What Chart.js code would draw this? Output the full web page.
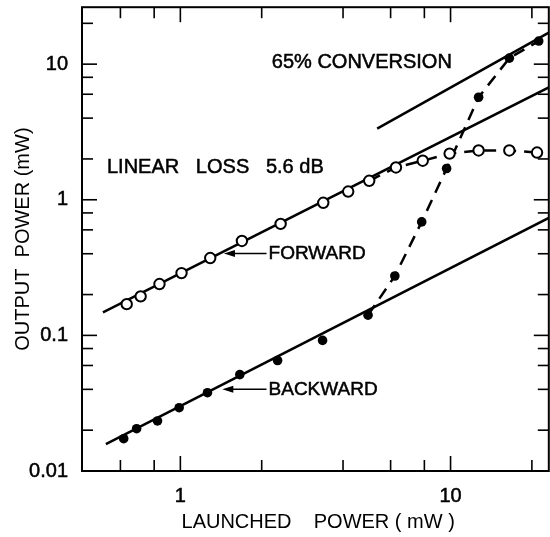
<!DOCTYPE html>
<html>
<head>
<meta charset="utf-8">
<script src="https://cdn.jsdelivr.net/npm/chart.js@4.4.1/dist/chart.umd.min.js"></script>
<style>
  html, body { margin: 0; padding: 0; background: #fff; overflow: hidden; }
  #wrap { position: relative; width: 556px; height: 537px; }
</style>
</head>
<body>
<div id="wrap"><canvas id="powerChart"></canvas></div>
<script>
// Forward output (open circles) vs launched power, mW
const fwdLaunched = [0.633, 0.713, 0.837, 1.01, 1.29, 1.69, 2.35, 3.38, 4.18, 5.0, 6.28, 7.89, 9.92, 12.7, 16.5, 20.9];
const fwdOutput   = [0.170, 0.194, 0.239, 0.288, 0.372, 0.497, 0.664, 0.95, 1.15, 1.38, 1.73, 1.94, 2.19, 2.31, 2.31, 2.23];

// Backward output (filled dots) vs launched power, mW
const bwdLaunched = [0.617, 0.689, 0.823, 0.99, 1.26, 1.66, 2.29, 3.36, 4.95, 6.22, 7.82, 9.67, 12.7, 16.5, 21.2];
const bwdOutput   = [0.0173, 0.0205, 0.0234, 0.0293, 0.0378, 0.0514, 0.0653, 0.0918, 0.141, 0.274, 0.687, 1.70, 5.70, 11.07, 14.8];

// straight reference lines (end points)
const lossLineX = [0.517, 23.1];
const lossLineY = [0.148, 6.73];
const bwdLineX = [0.530, 23.1];
const bwdLineY = [0.0158, 0.735];
const convLineX = [5.35, 23.1];
const convLineY = [3.35, 17.1];

// where the dashed curves leave the straight lines
const fwdBreak = 9;
const bwdBreak = 8;

// axis ticks
const xTickValues = [0.6, 0.8, 1, 2, 4, 6, 8, 10, 20];
const xLabelValues = [1, 10];
const xLabelText = ['1', '10'];
const yTickValues = [0.01, 0.02, 0.04, 0.06, 0.08, 0.1, 0.2, 0.4, 0.6, 0.8, 1, 2, 4, 6, 8, 10, 20];
const yLabelValues = [0.01, 0.1, 1, 10];
const yLabelText = ['0.01', '0.1', '1', '10'];

const FONT = '"Liberation Sans", Arial, Helvetica, sans-serif';

const pts = (xs, ys) => xs.map((v, i) => ({x: v, y: ys[i]}));

// text notes with arrows, placed in data units
const notes = [
  {text: '65% CONVERSION', x: 2.18, y: 10.3, size: 20},
  {text: 'LINEAR   LOSS   5.6 dB', x: 0.535, y: 1.74, size: 20},
  {text: 'FORWARD', x: 2.12, y: 0.402, size: 19, arrowTo: 1.45},
  {text: 'BACKWARD', x: 2.12, y: 0.040, size: 19, arrowTo: 1.43}
];

// box with inward ticks on all four sides
const frameTicks = {
  id: 'frameTicks',
  afterDatasetsDraw(chart) {
    const {ctx, chartArea: a, scales: {x, y}} = chart;
    ctx.save();
    ctx.strokeStyle = '#000';
    ctx.lineWidth = 2;
    ctx.strokeRect(a.left, a.top, a.right - a.left, a.bottom - a.top);
    ctx.lineWidth = 1.6;
    const seg = (x1, y1, x2, y2) => {
      ctx.beginPath(); ctx.moveTo(x1, y1); ctx.lineTo(x2, y2); ctx.stroke();
    };
    xTickValues.forEach(v => {
      const px = x.getPixelForValue(v);
      const len = xLabelValues.includes(v) ? 15 : 11;
      seg(px, a.bottom, px, a.bottom - len);
      seg(px, a.top, px, a.top + len);
    });
    yTickValues.forEach(v => {
      const py = y.getPixelForValue(v);
      const len = yLabelValues.includes(v) ? 15 : 11;
      seg(a.left, py, a.left + len, py);
      seg(a.right, py, a.right - len, py);
    });
    ctx.restore();
  }
};

const noteText = {
  id: 'noteText',
  afterDatasetsDraw(chart) {
    const {ctx, scales: {x, y}} = chart;
    ctx.save();
    ctx.fillStyle = '#000';
    ctx.strokeStyle = '#000';
    ctx.textBaseline = 'middle';
    ctx.textAlign = 'left';
    notes.forEach(n => {
      const px = x.getPixelForValue(n.x);
      const py = y.getPixelForValue(n.y);
      ctx.font = n.size + 'px ' + FONT;
      ctx.lineWidth = 0.5;
      ctx.fillText(n.text, px, py);
      ctx.strokeText(n.text, px, py);
      if (n.arrowTo) {
        const tx = x.getPixelForValue(n.arrowTo);
        ctx.lineWidth = 1.5;
        ctx.beginPath();
        ctx.moveTo(px - 2, py);
        ctx.lineTo(tx + 8, py);
        ctx.stroke();
        ctx.beginPath();
        ctx.moveTo(tx, py);
        ctx.lineTo(tx + 11, py - 3.5);
        ctx.lineTo(tx + 11, py + 3.5);
        ctx.closePath();
        ctx.fill();
      }
    });
    ctx.restore();
  }
};

const solid = (xs, ys) => ({
  data: pts(xs, ys), showLine: true, pointRadius: 0,
  borderColor: '#000', borderWidth: 2.5, order: 3
});
const dashed = (xs, ys) => ({
  data: pts(xs, ys), showLine: true, pointRadius: 0,
  borderColor: '#000', borderWidth: 2.5, borderDash: [12, 8], order: 2
});

const tickFont = {family: FONT, size: 20};

new Chart(document.getElementById('powerChart'), {
  type: 'scatter',
  data: {
    datasets: [
      {
        data: pts(fwdLaunched, fwdOutput), pointRadius: 5.2, pointBorderWidth: 2,
        pointBackgroundColor: '#fff', pointBorderColor: '#000', order: 0
      },
      {
        data: pts(bwdLaunched, bwdOutput), pointRadius: 4.8, pointBorderWidth: 0,
        pointBackgroundColor: '#000', pointBorderColor: '#000', order: 0
      },
      solid(lossLineX, lossLineY),
      solid(bwdLineX, bwdLineY),
      solid(convLineX, convLineY),
      dashed(fwdLaunched.slice(fwdBreak), fwdOutput.slice(fwdBreak)),
      dashed(bwdLaunched.slice(bwdBreak), bwdOutput.slice(bwdBreak))
    ]
  },
  options: {
    responsive: true,
    maintainAspectRatio: false,
    animation: false,
    layout: {padding: {top: 7, right: 4, left: 0, bottom: 0}},
    plugins: {legend: {display: false}, tooltip: {enabled: false}},
    scales: {
      x: {
        type: 'logarithmic',
        min: 0.4325,
        max: 23.1,
        afterBuildTicks: s => { s.ticks = xTickValues.map(v => ({value: v})); },
        afterFit: s => { s.height = 66; s.paddingLeft = 0; s.paddingRight = 0; },
        grid: {display: false, drawTicks: false},
        border: {display: false},
        ticks: {
          autoSkip: false, maxRotation: 0, padding: 13, color: '#000',
          font: tickFont, textStrokeColor: '#000', textStrokeWidth: 0.5,
          callback: v => { const i = xLabelValues.indexOf(v); return i >= 0 ? xLabelText[i] : ''; }
        },
        title: {
          display: true, text: ' LAUNCHED    POWER ( mW )', color: '#000',
          font: {family: FONT, size: 20}, padding: {top: 0, bottom: 3}
        }
      },
      y: {
        type: 'logarithmic',
        min: 0.01,
        max: 26.3,
        afterBuildTicks: s => { s.ticks = yTickValues.map(v => ({value: v})); },
        afterFit: s => { s.width = 82; s.paddingTop = 0; s.paddingBottom = 0; },
        grid: {display: false, drawTicks: false},
        border: {display: false},
        ticks: {
          autoSkip: false, padding: 14, color: '#000',
          font: tickFont, textStrokeColor: '#000', textStrokeWidth: 0.5,
          callback: v => { const i = yLabelValues.indexOf(v); return i >= 0 ? yLabelText[i] : ''; }
        },
        title: {
          display: true, text: 'OUTPUT  POWER (mW)', color: '#000',
          font: {family: FONT, size: 20}, padding: {top: 11, bottom: 0}
        }
      }
    }
  },
  plugins: [frameTicks, noteText]
});
</script>
</body>
</html>
